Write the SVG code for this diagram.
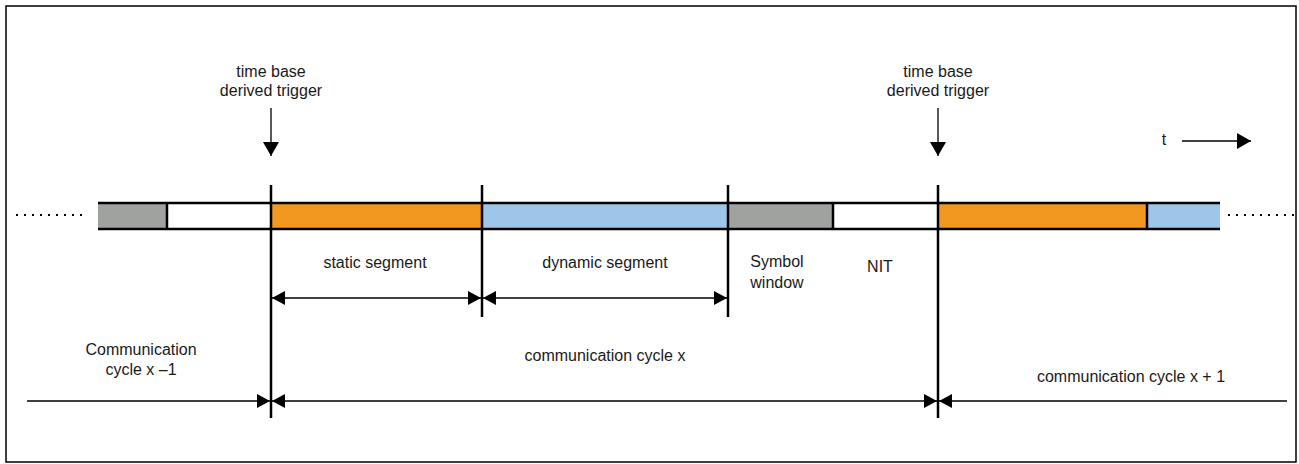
<svg xmlns="http://www.w3.org/2000/svg" width="1299" height="464" viewBox="0 0 1299 464">
<style>
text{font-family:"Liberation Sans",Arial,sans-serif;font-size:16px;fill:#1a1a1a;text-anchor:middle}
.seg{stroke:#000;stroke-width:2.5}
.div{stroke:#000;stroke-width:2.5}
.arr{stroke:#000;stroke-width:1.3;fill:none}
.dot{stroke:#000;stroke-width:2;stroke-dasharray:2 6}
</style>
<defs>
<marker id="ah" viewBox="0 0 13 14" refX="13" refY="7" markerWidth="13" markerHeight="14" markerUnits="userSpaceOnUse" orient="auto-start-reverse">
<path d="M0,0 L13,7 L0,14 z" fill="#000"/>
</marker>
<marker id="ahd" viewBox="0 0 14 16" refX="14" refY="8" markerWidth="14" markerHeight="16" markerUnits="userSpaceOnUse" orient="auto">
<path d="M0,0 L14,8 L0,16 z" fill="#000"/>
</marker>
</defs>
<rect x="6" y="6" width="1290" height="456" fill="#fff" stroke="#000" stroke-width="1.5"/>
<g id="timeline">
<line class="dot" x1="16" y1="215" x2="86" y2="215"/>
<line class="dot" x1="1228" y1="215" x2="1298" y2="215"/>
<rect x="98" y="203" width="69" height="26" fill="#A0A2A0"/>
<rect x="167" y="203" width="104" height="26" fill="#fff"/>
<rect x="271" y="203" width="211" height="26" fill="#F2971F"/>
<rect x="482" y="203" width="246" height="26" fill="#9DC6E8"/>
<rect x="728" y="203" width="105" height="26" fill="#A0A2A0"/>
<rect x="833" y="203" width="105" height="26" fill="#fff"/>
<rect x="938" y="203" width="209" height="26" fill="#F2971F"/>
<rect x="1147" y="203" width="73" height="26" fill="#9DC6E8"/>
<line class="seg" x1="98" y1="203" x2="1220" y2="203"/>
<line class="seg" x1="98" y1="229" x2="1220" y2="229"/>
<line class="div" x1="167" y1="203" x2="167" y2="229"/>
<line class="div" x1="833" y1="203" x2="833" y2="229"/>
<line class="div" x1="1147" y1="203" x2="1147" y2="229"/>
<line class="div" x1="271" y1="185" x2="271" y2="418"/>
<line class="div" x1="482" y1="185" x2="482" y2="317"/>
<line class="div" x1="728" y1="185" x2="728" y2="317"/>
<line class="div" x1="938" y1="185" x2="938" y2="418"/>
</g>
<g id="connectors">
<line class="arr" x1="271" y1="108" x2="271" y2="156" marker-end="url(#ahd)"/>
<line class="arr" x1="938" y1="108" x2="938" y2="156" marker-end="url(#ahd)"/>
<line class="arr" x1="1182" y1="141" x2="1251" y2="141" marker-end="url(#ahd)"/>
<line class="arr" x1="272" y1="298" x2="481" y2="298" marker-start="url(#ah)" marker-end="url(#ah)"/>
<line class="arr" x1="483" y1="298" x2="727" y2="298" marker-start="url(#ah)" marker-end="url(#ah)"/>
<line class="arr" x1="27" y1="401" x2="270" y2="401" marker-end="url(#ah)"/>
<line class="arr" x1="272" y1="401" x2="937" y2="401" marker-start="url(#ah)" marker-end="url(#ah)"/>
<line class="arr" x1="939" y1="401" x2="1287" y2="401" marker-start="url(#ah)"/>
</g>
<g id="trigger1"><text x="271" y="77">time base</text><text x="271" y="96">derived trigger</text></g>
<g id="trigger2"><text x="938" y="77">time base</text><text x="938" y="96">derived trigger</text></g>
<g id="t-label"><text x="1164" y="145">t</text></g>
<g id="static"><text x="375" y="268">static segment</text></g>
<g id="dynamic"><text x="605" y="268">dynamic segment</text></g>
<g id="symbol"><text x="777" y="267">Symbol</text><text x="777" y="288">window</text></g>
<g id="nit"><text x="880" y="272">NIT</text></g>
<g id="cycle-prev"><text x="141" y="355">Communication</text><text x="141" y="375">cycle x –1</text></g>
<g id="cycle-x"><text x="605" y="361">communication cycle x</text></g>
<g id="cycle-next"><text x="1131" y="382">communication cycle x + 1</text></g>
</svg>
